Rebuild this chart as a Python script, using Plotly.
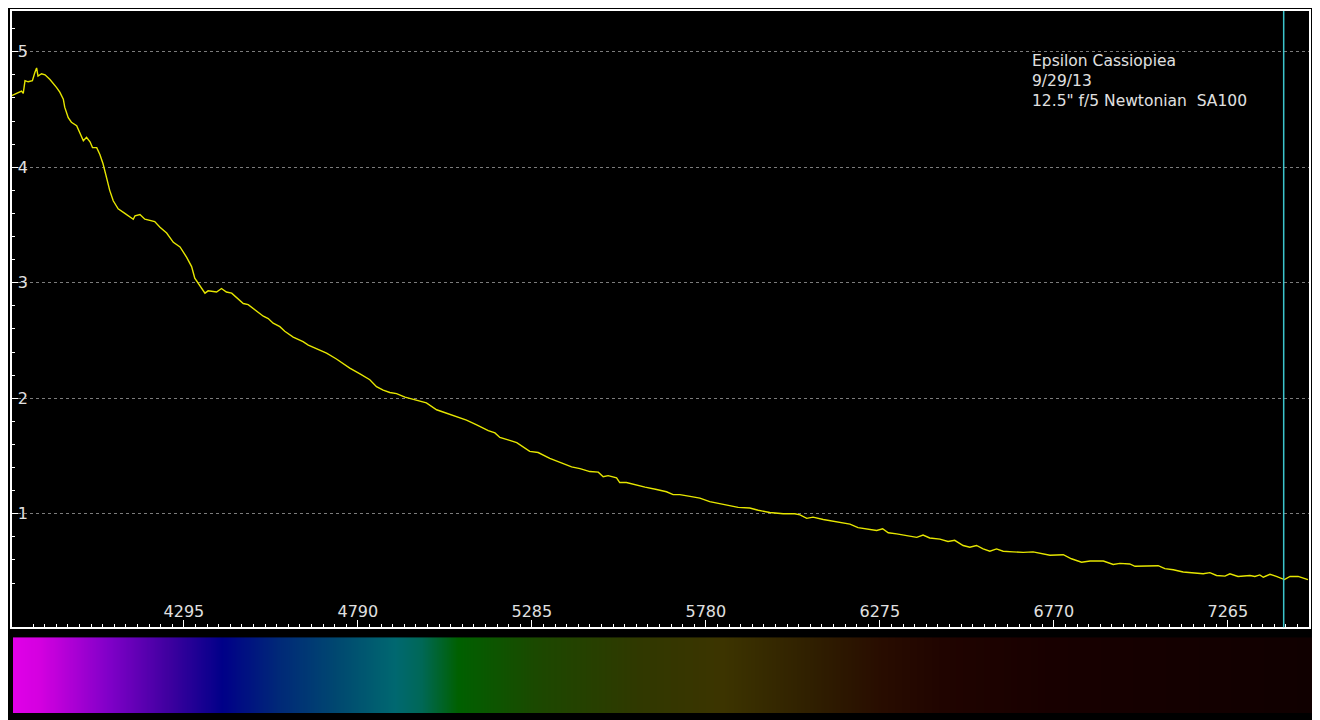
import numpy as np
import plotly.graph_objects as go

# ---- data ----
wavelength = [3805, 3833, 3838, 3843, 3852, 3864, 3871, 3876, 3880, 3890, 3900, 3914, 3933, 3942,
              3952, 3956, 3966, 3975, 3990, 3999, 4009, 4018, 4028, 4035, 4047, 4056, 4065, 4075,
              4084, 4094, 4108, 4127, 4151, 4156, 4170, 4184, 4198, 4212, 4227, 4246, 4265, 4284,
              4303, 4317, 4326, 4341, 4355, 4364, 4388, 4402, 4416, 4431, 4445, 4464, 4478, 4502,
              4521, 4535, 4549, 4568, 4582, 4606, 4634, 4649, 4682, 4701, 4729, 4748, 4767, 4796,
              4824, 4843, 4862, 4881, 4900, 4924, 4947, 4966, 4985, 5014, 5042, 5066, 5099, 5128,
              5161, 5180, 5194, 5222, 5242, 5279, 5303, 5336, 5355, 5369, 5398, 5422, 5450, 5474,
              5488, 5502, 5526, 5535, 5554, 5583, 5607, 5640, 5668, 5687, 5706, 5735, 5763, 5791,
              5819, 5848, 5872, 5905, 5929, 5962, 6000, 6033, 6048, 6067, 6085, 6114, 6142, 6161,
              6190, 6213, 6237, 6266, 6283, 6299, 6323, 6351, 6380, 6398, 6417, 6446, 6469, 6488,
              6512, 6531, 6550, 6569, 6588, 6607, 6626, 6654, 6683, 6711, 6740, 6759, 6797, 6820,
              6849, 6873, 6911, 6939, 6958, 6986, 7001, 7034, 7067, 7086, 7110, 7138, 7166, 7195,
              7214, 7233, 7257, 7271, 7294, 7328, 7342, 7356, 7366, 7385, 7403, 7426, 7442, 7465,
              7493]
intensity = [4.62, 4.66, 4.64, 4.75, 4.74, 4.75, 4.82, 4.86, 4.79, 4.81, 4.80, 4.76, 4.69, 4.65,
             4.59, 4.52, 4.43, 4.39, 4.36, 4.29, 4.23, 4.26, 4.22, 4.17, 4.17, 4.11, 4.03, 3.91,
             3.80, 3.71, 3.64, 3.60, 3.55, 3.58, 3.59, 3.55, 3.54, 3.53, 3.48, 3.43, 3.35, 3.31,
             3.22, 3.14, 3.04, 2.97, 2.91, 2.93, 2.92, 2.95, 2.92, 2.91, 2.87, 2.82, 2.81, 2.75,
             2.71, 2.69, 2.65, 2.62, 2.58, 2.53, 2.49, 2.46, 2.42, 2.39, 2.34, 2.30, 2.26, 2.21,
             2.16, 2.10, 2.07, 2.05, 2.04, 2.01, 1.99, 1.97, 1.96, 1.90, 1.87, 1.84, 1.81, 1.77,
             1.72, 1.70, 1.66, 1.635, 1.615, 1.54, 1.53, 1.48, 1.46, 1.44, 1.405, 1.39, 1.365, 1.36,
             1.32, 1.33, 1.31, 1.27, 1.27, 1.245, 1.23, 1.21, 1.19, 1.165, 1.165, 1.15, 1.135, 1.105,
             1.09, 1.07, 1.055, 1.05, 1.03, 1.01, 1.00, 1.00, 0.99, 0.96, 0.97, 0.95, 0.935, 0.925,
             0.91, 0.88, 0.87, 0.855, 0.87, 0.835, 0.825, 0.81, 0.795, 0.815, 0.79, 0.78, 0.76, 0.77,
             0.725, 0.71, 0.725, 0.695, 0.675, 0.695, 0.675, 0.67, 0.665, 0.67, 0.65, 0.64, 0.645, 0.61,
             0.58, 0.59, 0.59, 0.56, 0.57, 0.565, 0.545, 0.545, 0.55, 0.525, 0.515, 0.495, 0.485, 0.48,
             0.49, 0.465, 0.46, 0.48, 0.457, 0.465, 0.457, 0.47, 0.45, 0.475, 0.457, 0.43, 0.457, 0.457,
             0.43]

x_range = [3806, 7496]
y_range = [0.017, 5.353]
x_tick0 = 4295
x_tick_step = 495
marker_wavelength = 7424

annotation_lines = ["Epsilon Cassiopiea", "9/29/13", "12.5\" f/5 Newtonian\u00a0\u00a0SA100"]

# colour strip (spectrum) stops
bar_range = [3809, 7507]
bar_stop_wl = [3809, 3885, 4082, 4249, 4406, 4562, 4730, 4898, 4969, 5077, 5305, 5592, 5831,
               6070, 6286, 6454, 6764, 7507]
bar_stop_col = ["#e000e8", "#d400e0", "#8000c8", "#4000a0", "#000088", "#002878", "#004870",
                "#006870", "#006858", "#006000", "#1c4800", "#303800", "#3c3400", "#302000",
                "#280c00", "#200400", "#180000", "#100000"]

# ---- figure ----
span = bar_range[1] - bar_range[0]
colorscale = [[(w - bar_range[0]) / span, c] for w, c in zip(bar_stop_wl, bar_stop_col)]
bar_x = np.arange(bar_range[0], bar_range[1] + 1, 3)

FONT = "DejaVu Sans"
TXT = "#e0e0e0"

fig = go.Figure()
fig.add_trace(go.Heatmap(x=bar_x, y=[0], z=[bar_x], colorscale=colorscale,
                         zmin=bar_range[0], zmax=bar_range[1], showscale=False,
                         xaxis="x2", yaxis="y2", hoverinfo="skip"))
fig.add_trace(go.Scatter(x=wavelength, y=intensity, mode="lines",
                         line=dict(color="#e6e600", width=1.4), hoverinfo="skip"))

fig.add_shape(type="line", x0=marker_wavelength, x1=marker_wavelength, y0=0, y1=1,
              xref="x", yref="y domain", line=dict(color="#3cc4cc", width=1.5))

# page body has an 8px default margin; figure is sized to fill the rest of the window
OFF = 8
W, H = 1320 - OFF, 720 - OFF
ml, mr, mt, mb = 12 - OFF, 7, 1, 7
pw = W - ml - mr
ph = H - mt - mb
# page-pixel helpers
def px_x(p):
    return (p - OFF - ml) / pw
def px_y(p):
    return (H - mb - (p - OFF)) / ph

fig.add_annotation(text="<br>".join(annotation_lines), xref="paper", yref="paper",
                   x=px_x(1030), y=px_y(48), xanchor="left", yanchor="top", align="left",
                   showarrow=False, font=dict(family=FONT, size=15.5, color=TXT))

fig.update_layout(
    width=W, height=H,
    margin=dict(l=ml, r=mr, t=mt, b=mb),
    paper_bgcolor="black", plot_bgcolor="black",
    showlegend=False,
    font=dict(family=FONT, size=16, color=TXT),
    xaxis=dict(domain=[0, px_x(1309)], range=x_range, showgrid=False, zeroline=False,
               showline=True, mirror=True, linecolor="white", linewidth=2,
               tick0=x_tick0, dtick=x_tick_step, ticks="inside", ticklen=7, tickcolor="white",
               tickwidth=1, ticklabelposition="inside", tickfont=dict(family=FONT, size=16, color=TXT),
               minor=dict(ticks="inside", ticklen=3, tick0=x_tick0, dtick=x_tick_step / 15,
                          tickcolor="white", showgrid=False)),
    yaxis=dict(domain=[px_y(627), 1], range=y_range, showgrid=True,
               gridcolor="#7c7c7c", griddash="3px,3px", gridwidth=1, zeroline=False,
               showline=True, mirror=True, linecolor="white", linewidth=2,
               tick0=0, dtick=1, ticks="inside", ticklen=6, tickcolor="white",
               ticklabelposition="inside", tickfont=dict(family=FONT, size=16, color=TXT),
               minor=dict(ticks="inside", ticklen=3, dtick=0.2, tickcolor="white", showgrid=False)),
    xaxis2=dict(domain=[px_x(13), 1], range=bar_range, visible=False, anchor="y2"),
    yaxis2=dict(domain=[0, px_y(637)], range=[-0.5, 0.5], visible=False, anchor="x2"),
)

fig.write_html("out.html")
